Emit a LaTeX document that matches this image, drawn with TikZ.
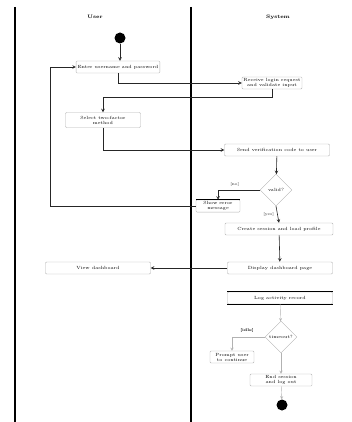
\documentclass[tikz,border=0pt]{standalone}
\usetikzlibrary{shapes.geometric,positioning}
\begin{document}
\begin{tikzpicture}[x=1pt, y=-1pt, >=stealth,
	act/.style={draw=gray!60, rounded corners=1pt, align=center, inner sep=1.5pt,
		minimum height=12pt, font=\fontsize{4.5}{5}\selectfont},
	dec/.style={diamond, draw=gray!60, aspect=1, inner sep=0.5pt, minimum size=32pt,
		font=\fontsize{4.5}{5}\selectfont},
	dot/.style={circle, fill=black, minimum size=11pt, inner sep=0pt},
	flow/.style={->, semithick, black!85},
	faint/.style={->, thin, gray!60},
	lane/.style={line width=1.2pt},
	head/.style={font=\fontsize{5}{6}\selectfont\bfseries},
	guard/.style={font=\fontsize{4}{5}\selectfont}]
	
	\useasboundingbox (0,0) rectangle (352,422);
	
	% --- 1. Swimlanes ---
	\draw[lane] (15,7) -- (15,422);
	\draw[lane] (191,7) -- (191,422);
	\node[head] (hUser) at (95,17) {User};
	\node[head] (hSys) at (278,17) {System};
	\coordinate (back) at (50,0);
	
	% --- 2. User actions ---
	\node[dot] (start) at (120,38) {};
	\node[act] (enter) at (118,67) {Enter username and password};
	\node[act, minimum width=75pt, minimum height=15pt] (choose) at (103,120) {Select two-factor\\method};
	\node[act, minimum width=105pt] (view) at (98,268) {View dashboard};
	
	% --- 3. System actions ---
	\node[act] (check) at (272,83) {Receive login request\\and validate input};
	\node[act, minimum width=105pt] (send) at (277,150) {Send verification code to user};
	\node[dec] (valid) at (276,190) {valid?};
	\node[act, minimum width=44pt] (err) at (218,206) {Show error\\message};
	\node[act, minimum width=108pt] (load) at (279,229) {Create session and load profile};
	\node[act, minimum width=105pt] (show) at (280,268) {Display dashboard page};
	\node[act, minimum width=105pt] (log) at (280,298) {Log activity record};
	\node[dec] (idle) at (281,337) {timeout?};
	\node[guard, font=\fontsize{4}{5}\selectfont\bfseries] (gidle) at (247,330) {[idle]};
	\node[act, minimum width=44pt] (prompt) at (232,357) {Prompt user\\to continue};
	\node[act, minimum width=62pt] (close) at (281,380) {End session\\and log out};
	\node[dot] (stop) at (282,405) {};
	
	% heavier edges
	\draw[line width=0.8pt] (err.north west) -- (err.north east);
	\draw[line width=0.8pt] (log.north west) -- (log.north east);
	\draw[line width=0.8pt] (log.south west) -- (log.south east);
	
	% --- 4. Flow ---
	\draw[flow] (start) -- (start |- enter.north);
	\draw[flow] (enter.south) |- (check.west);
	\draw[flow] (check.south) -- ++(0,8) -| (choose.north);
	\draw[flow] (choose.south) |- (send.west);
	\draw[flow] (send) -- (valid);
	\draw[flow] (valid.west) -| (err.north) node[guard, pos=0.3, above] {[no]};
	\draw[flow] (err.west) -- (err.west -| back) |- (enter.west);
	\draw[flow] (valid.south) -- (load.north) node[guard, midway, left] {[yes]};
	\draw[flow] (load) -- (show);
	\draw[flow] (show.west) -- (view.east);
	
	% idle check
	\draw[faint] (log) -- (idle);
	\draw[faint] (idle.west) -| (prompt.north);
	\draw[faint] (idle.south) -- (close.north);
	\draw[faint] (close) -- (stop);
	
\end{tikzpicture}
\end{document}
